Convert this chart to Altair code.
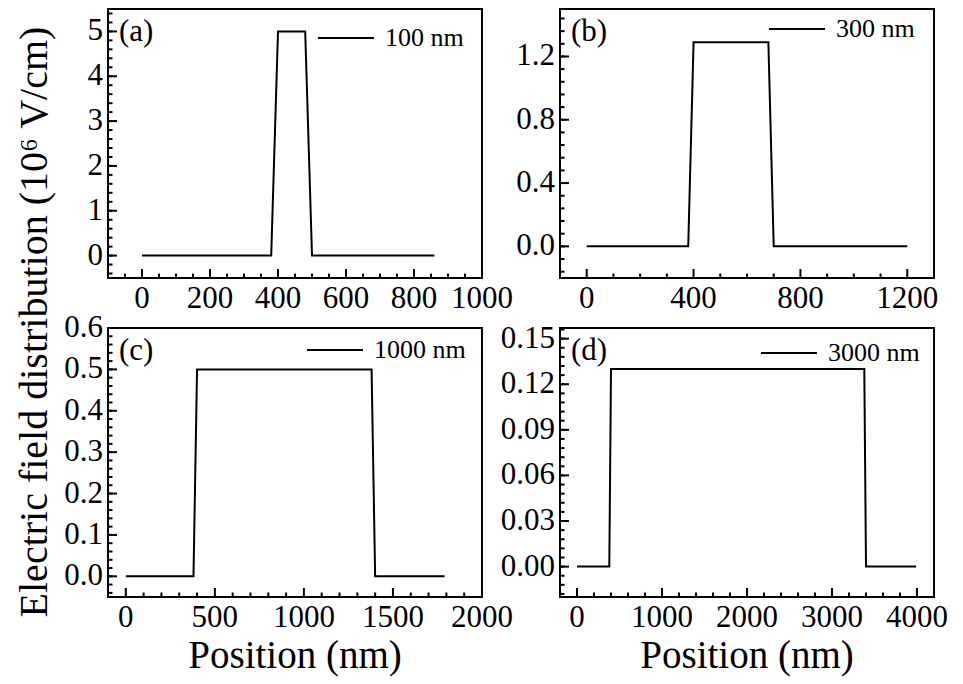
import altair as alt
import pandas as pd

FONT = "Liberation Serif"

# ---- data ----
pos_a = [0, 380, 400, 480, 500, 860]
field_a = [0, 0, 5, 5, 0, 0]
pos_b = [0, 380, 400, 680, 700, 1200]
field_b = [0, 0, 1.29, 1.29, 0, 0]
pos_c = [0, 380, 400, 1380, 1400, 1790]
field_c = [0, 0, 0.5, 0.5, 0, 0]
pos_d = [0, 380, 400, 3380, 3400, 3990]
field_d = [0, 0, 0.13, 0.13, 0, 0]

series_names = ["100 nm", "300 nm", "1000 nm", "3000 nm"]
panel_labels = ["(a)", "(b)", "(c)", "(d)"]
x_title = "Position (nm)"
y_title = "Electric field distribution (10⁶ V/cm)"

# ---- axis ticks ----
xmaj_a = [0, 200, 400, 600, 800, 1000]
xmin_a = [-100, -50, 50, 100, 150, 250, 300, 350, 450, 500, 550, 650, 700, 750, 850, 900, 950]
ymaj_a = [0, 1, 2, 3, 4, 5]
ymin_a = [round(-0.4 + 0.2 * i, 2) for i in range(30)]

xmaj_b = [0, 400, 800, 1200]
xmin_b = [-100, 100, 200, 300, 500, 600, 700, 900, 1000, 1100, 1300]
ymaj_b = [0.0, 0.4, 0.8, 1.2]
ymin_b = [round(-0.16 + 0.08 * i, 2) for i in range(21)]

xmaj_c = [0, 500, 1000, 1500, 2000]
xmin_c = [v for v in range(-100, 2001, 100) if v % 500 != 0]
ymaj_c = [0.0, 0.1, 0.2, 0.3, 0.4, 0.5, 0.6]
ymin_c = [round(-0.04 + 0.02 * i, 2) for i in range(33)]

xmaj_d = [0, 1000, 2000, 3000, 4000]
xmin_d = [v for v in range(-200, 4201, 200) if v % 1000 != 0]
ymaj_d = [0.00, 0.03, 0.06, 0.09, 0.12, 0.15]
ymin_d = [round(-0.018 + 0.006 * i, 3) for i in range(30)]

W, H = 374, 269
MAJ, MIN = 9, 4.5
LFS = 31


def panel(pos, field, name, label, xdom, ydom, xmaj, xmin, ymaj, ymin, xfmt, yfmt,
          leg_x, leg_y, xtitle=None, ytitle=None):
    df = pd.DataFrame({"pos": pos, "field": field, "series": [name] * len(pos)})
    xs = alt.Scale(domain=xdom, nice=False, zero=False)
    ys = alt.Scale(domain=ydom, nice=False, zero=False)
    ybot = alt.YDatum(ydom[0], type="quantitative", scale=ys, axis=None)
    xleft = alt.XDatum(xdom[0], type="quantitative", scale=xs, axis=None)

    line = alt.Chart(df).mark_line(strokeWidth=2).encode(
        x=alt.X("pos:Q", scale=xs, axis=None),
        y=alt.Y("field:Q", scale=ys, axis=None),
        color=alt.Color("series:N", scale=alt.Scale(range=["black"]),
                        legend=alt.Legend(title=None, orient="none", legendX=leg_x, legendY=leg_y,
                                          symbolType="stroke", symbolSize=3136,
                                          symbolStrokeWidth=2, padding=0, labelOffset=10,
                                          labelFont=FONT, labelFontSize=26, labelColor="black")),
    )

    # inward ticks: tick marks centred on the frame edge, clipped to the plot
    def xticks(vals, size):
        return alt.Chart(pd.DataFrame({"v": vals})).mark_tick(
            orient="vertical", size=2 * size, thickness=2, color="black", clip=True, opacity=1
        ).encode(x=alt.X("v:Q", scale=xs, axis=None), y=ybot)

    def yticks(vals, size):
        return alt.Chart(pd.DataFrame({"v": vals})).mark_tick(
            orient="horizontal", size=2 * size, thickness=2, color="black", clip=True, opacity=1
        ).encode(y=alt.Y("v:Q", scale=ys, axis=None), x=xleft)

    xlab = alt.Chart(pd.DataFrame({"v": xmaj})).mark_text(
        baseline="top", align="center", dy=6, font=FONT, fontSize=LFS, color="black"
    ).encode(x=alt.X("v:Q", scale=xs, axis=None), y=ybot,
             text=alt.Text("v:Q", format=xfmt))
    ylab = alt.Chart(pd.DataFrame({"v": ymaj})).mark_text(
        baseline="middle", align="right", dx=-5, font=FONT, fontSize=LFS, color="black"
    ).encode(y=alt.Y("v:Q", scale=ys, axis=None), x=xleft,
             text=alt.Text("v:Q", format=yfmt))

    txt = alt.Chart(pd.DataFrame({"label": [label]})).mark_text(
        align="left", baseline="middle", font=FONT, fontSize=31, color="black"
    ).encode(x=alt.value(11), y=alt.value(23), text="label:N")

    layers = [line, xticks(xmin, MIN), xticks(xmaj, MAJ), yticks(ymin, MIN),
              yticks(ymaj, MAJ), xlab, ylab, txt]
    if xtitle:
        layers.append(alt.Chart(pd.DataFrame({"t": [xtitle]})).mark_text(
            align="center", baseline="alphabetic", font=FONT, fontSize=39, color="black"
        ).encode(x=alt.value(W / 2), y=alt.value(H + 71), text="t:N"))
    if ytitle:
        layers.append(alt.Chart(pd.DataFrame({"t": [ytitle]})).mark_text(
            align="center", baseline="alphabetic", angle=270, font=FONT, fontSize=40,
            color="black"
        ).encode(x=alt.value(-61), y=alt.value(-6), text="t:N"))

    return alt.layer(*layers).properties(width=W, height=H)


pa = panel(pos_a, field_a, series_names[0], panel_labels[0], [-100, 1000], [-0.5, 5.5],
           xmaj_a, xmin_a, ymaj_a, ymin_a, "d", "d", 209, 0)
pb = panel(pos_b, field_b, series_names[1], panel_labels[1], [-100, 1300], [-0.2, 1.5],
           xmaj_b, xmin_b, ymaj_b, ymin_b, "d", ".1f", 208, -9)
pc = panel(pos_c, field_c, series_names[2], panel_labels[2], [-100, 2000], [-0.05, 0.6],
           xmaj_c, xmin_c, ymaj_c, ymin_c, "d", ".1f", 198, -7,
           xtitle=x_title, ytitle=y_title)
pd_ = panel(pos_d, field_d, series_names[3], panel_labels[3], [-200, 4200], [-0.02, 0.157],
            xmaj_d, xmin_d, ymaj_d, ymin_d, "d", ".2f", 200, -4,
            xtitle=x_title)

chart = alt.concat(pa, pb, pc, pd_, columns=2, spacing={"row": 50, "column": 78},
                   bounds="flush").resolve_scale(color="independent").configure_view(
    stroke="black", strokeWidth=2).properties(
    padding={"left": 5, "top": -9, "right": 5, "bottom": 5}, background="white")

chart.save("out.html", embed_options={"renderer": "svg", "actions": False})
